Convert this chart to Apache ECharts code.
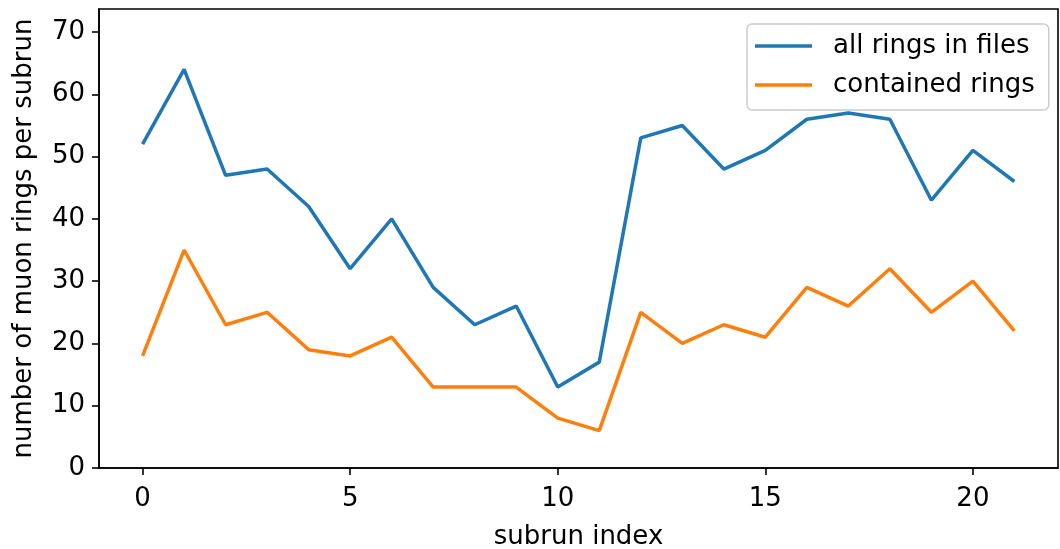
<!DOCTYPE html>
<html><head><meta charset="utf-8">
<script src="https://cdn.jsdelivr.net/npm/echarts@6/dist/echarts.min.js"></script>
<style>html,body{margin:0;padding:0;background:#fff}#c{width:1060px;height:549px}</style>
</head><body><div id="c"></div>
<script>
const subrunIndex = [0,1,2,3,4,5,6,7,8,9,10,11,12,13,14,15,16,17,18,19,20,21];
const allRings = [52,64,47,48,42,32,40,29,23,26,13,17,53,55,48,51,56,57,56,43,51,46];
const containedRings = [18,35,23,25,19,18,21,13,13,13,8,6,25,20,23,21,29,26,32,25,30,22];
const xTicks = [0,5,10,15,20];
const yTicks = [0,10,20,30,40,50,60,70];

const font = 'DejaVu Sans';
const fs = 26;
const chart = echarts.init(document.getElementById('c'), null, {renderer:'canvas'});
const axisCommon = {
  axisLine:{show:true, onZero:false, lineStyle:{color:'#000', width:1.6}},
  axisTick:{show:true, length:7, inside:false, lineStyle:{color:'#000', width:1.6}},
  splitLine:{show:false},
  axisLabel:{color:'#000', fontFamily:font, fontSize:fs},
  nameTextStyle:{color:'#000', fontFamily:font, fontSize:fs}
};
chart.setOption({
  backgroundColor:'#fff',
  animation:false,
  grid:{left:99, right:2, top:9, bottom:81, show:true, borderColor:'#000', borderWidth:1.6,
        containLabel:false, outerBoundsMode:'none'},
  legend:{
    orient:'vertical', left:747, top:24,
    padding:[7, 14, 10, 8],
    backgroundColor:'#fff', borderColor:'#cccccc', borderWidth:1.5, borderRadius:5,
    icon:'rect', itemWidth:57, itemHeight:3.5, itemGap:9,
    textStyle:{color:'#000', fontFamily:font, fontSize:fs, lineHeight:30, padding:[0,0,0,16]},
    data:['all rings in files','contained rings']
  },
  xAxis:Object.assign({}, axisCommon, {
    type:'value', min:-1.05, max:22.05,
    name:'subrun index', nameLocation:'middle', nameGap:56,
    axisTick:Object.assign({}, axisCommon.axisTick, {customValues:xTicks}),
    axisLabel:Object.assign({}, axisCommon.axisLabel, {customValues:xTicks, margin:18})
  }),
  yAxis:Object.assign({}, axisCommon, {
    type:'value', min:0, max:73.7,
    name:'number of muon rings per subrun', nameLocation:'middle', nameGap:62,
    axisTick:Object.assign({}, axisCommon.axisTick, {customValues:yTicks}),
    axisLabel:Object.assign({}, axisCommon.axisLabel, {customValues:yTicks, margin:14})
  }),
  series:[
    {name:'all rings in files', type:'line', symbol:'none', showSymbol:false,
     data:subrunIndex.map((x,i)=>[x, allRings[i]]),
     itemStyle:{color:'#1f77b4'}, lineStyle:{color:'#1f77b4', width:3.5}},
    {name:'contained rings', type:'line', symbol:'none', showSymbol:false,
     data:subrunIndex.map((x,i)=>[x, containedRings[i]]),
     itemStyle:{color:'#ff7f0e'}, lineStyle:{color:'#ff7f0e', width:3.5}}
  ]
});
</script></body></html>
